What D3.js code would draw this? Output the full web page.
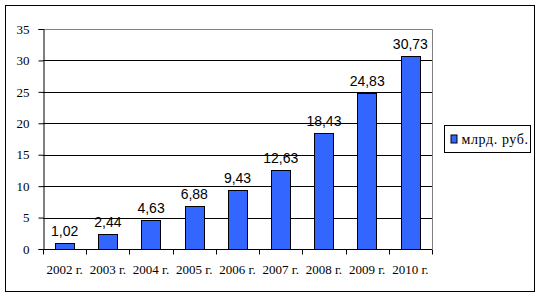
<!DOCTYPE html>
<html>
<head>
<meta charset="utf-8">
<script src="https://cdn.jsdelivr.net/npm/d3@7"></script>
<style>
  body { margin: 0; background: #fff; }
</style>
</head>
<body>
<div class="vis-chart"></div>
<script>
const years = ['2002 г.', '2003 г.', '2004 г.', '2005 г.', '2006 г.', '2007 г.', '2008 г.', '2009 г.', '2010 г.'];
const values = [1.02, 2.44, 4.63, 6.88, 9.43, 12.63, 18.43, 24.83, 30.73];
const yTicks = [0, 5, 10, 15, 20, 25, 30, 35];
const seriesName = 'млрд. руб.';

const outerWidth = 540, outerHeight = 298;
const margin = {top: 29, right: 108, bottom: 49, left: 43};
const width = outerWidth - margin.left - margin.right;
const height = outerHeight - margin.top - margin.bottom;

const svg = d3.select('.vis-chart')
    .append('svg')
    .attr('width', outerWidth)
    .attr('height', outerHeight);

// outer frame
svg.append('rect')
    .attr('x', 5.5).attr('y', 5.5)
    .attr('width', 529).attr('height', 286)
    .attr('fill', 'none').attr('stroke', '#000').attr('stroke-width', 1);

const g = svg.append('g')
    .attr('transform', 'translate(' + margin.left + ',' + margin.top + ')');

const x = d3.scaleBand()
    .domain(years)
    .range([0, width])
    .paddingInner(0.55)
    .paddingOuter(0.275);

const y = d3.scaleLinear()
    .domain([0, 35])
    .range([height, 0]);

// plot area right/top border (gray)
g.append('path')
    .attr('d', 'M0.5,0.5H' + (width + 0.5) + 'V' + height)
    .attr('fill', 'none').attr('stroke', '#808080');

// gridlines
g.selectAll('.grid')
    .data(yTicks.filter(t => t > 0 && t < 35))
    .enter().append('line')
    .attr('x1', 0).attr('x2', width)
    .attr('y1', d => Math.round(y(d)) + 0.5)
    .attr('y2', d => Math.round(y(d)) + 0.5)
    .attr('stroke', '#000');

// bars
g.selectAll('.bar')
    .data(values)
    .enter().append('rect')
    .attr('x', (d, i) => Math.round(x(years[i])) + 0.5)
    .attr('y', d => Math.round(y(d)) + 0.5)
    .attr('width', Math.round(x.bandwidth()))
    .attr('height', d => height - Math.round(y(d)))
    .attr('fill', '#3366FF')
    .attr('stroke', '#000');

// value labels
g.selectAll('.val')
    .data(values)
    .enter().append('text')
    .attr('x', (d, i) => x(years[i]) + x.bandwidth() / 2)
    .attr('y', d => y(d) - 7)
    .attr('text-anchor', 'middle')
    .style('font-family', '"Liberation Sans", Arial, sans-serif')
    .style('font-size', '14px')
    .text(d => d.toFixed(2).replace('.', ','));

// y axis
const yAxis = g.append('g')
    .attr('transform', 'translate(0.5,0)')
    .call(d3.axisLeft(y).tickValues(yTicks).tickSize(5).tickPadding(9).tickFormat(d => d));
yAxis.select('.domain').attr('stroke', '#000');
yAxis.selectAll('.tick line').attr('stroke', '#000');
yAxis.selectAll('text')
    .style('font-family', '"Liberation Serif", "Times New Roman", serif')
    .style('font-size', '13px')
    .attr('fill', '#000');

// x axis with ticks between categories
const xg = g.append('g').attr('transform', 'translate(0,' + (height + 0.5) + ')');
xg.append('line').attr('x1', 0).attr('x2', width).attr('stroke', '#000');
xg.selectAll('.xt')
    .data(d3.range(years.length + 1))
    .enter().append('line')
    .attr('x1', i => Math.round(i * width / years.length) + 0.5)
    .attr('x2', i => Math.round(i * width / years.length) + 0.5)
    .attr('y1', 0).attr('y2', 5)
    .attr('stroke', '#000');
xg.selectAll('.xl')
    .data(years)
    .enter().append('text')
    .attr('x', d => x(d) + x.bandwidth() / 2)
    .attr('y', 24)
    .attr('text-anchor', 'middle')
    .style('font-family', '"Liberation Serif", "Times New Roman", serif')
    .style('font-size', '13px')
    .text(d => d);

// legend
const legend = svg.append('g').attr('transform', 'translate(444.5,125.5)');
legend.append('rect')
    .attr('width', 86).attr('height', 27)
    .attr('fill', '#fff').attr('stroke', '#000');
legend.append('rect')
    .attr('x', 6.5).attr('y', 9.5)
    .attr('width', 6).attr('height', 8)
    .attr('fill', '#3366FF').attr('stroke', '#000');
legend.append('text')
    .attr('x', 17).attr('y', 18)
    .style('font-family', '"Liberation Serif", "Times New Roman", serif')
    .style('font-size', '14px')
    .style('letter-spacing', '0.6px')
    .text(seriesName);
</script>
</body>
</html>
